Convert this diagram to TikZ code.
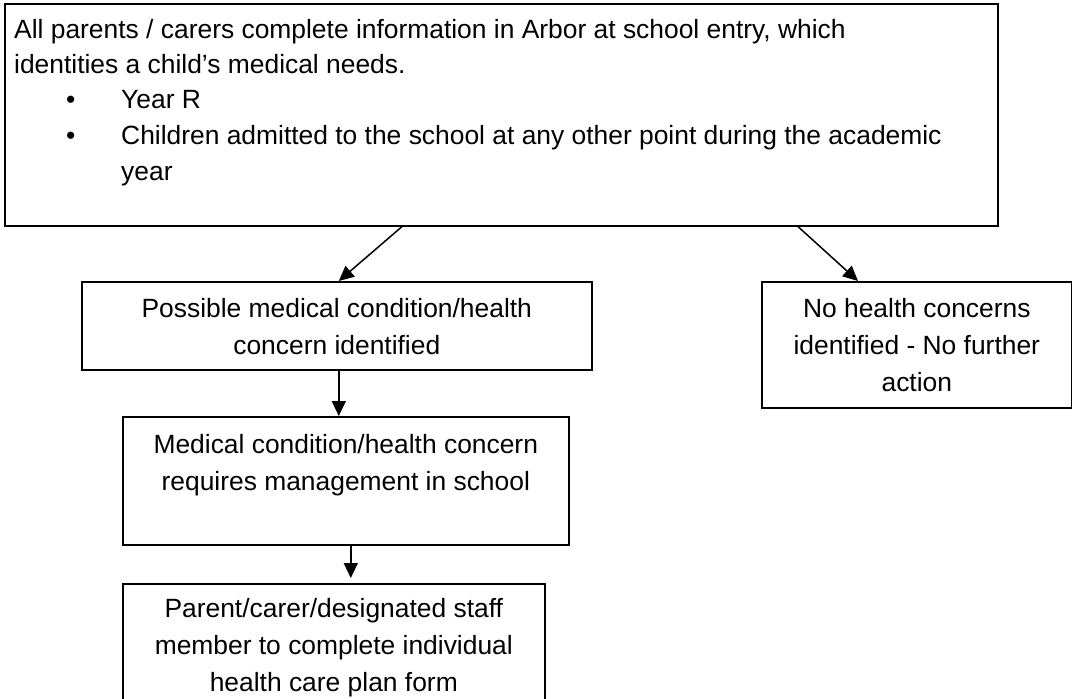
\documentclass[tikz,border=0pt]{standalone}
\usepackage{fontspec}
\setmainfont{Liberation Sans}
\usetikzlibrary{arrows.meta}
\newcommand\mlines[1]{\begin{tabular}[t]{@{}c@{}}#1\end{tabular}}
\newcommand\llines[1]{\begin{tabular}[t]{@{}l@{}}#1\end{tabular}}
\newcommand\bul{\makebox[107pt][l]{\hspace*{52pt}\textbullet}}
\begin{document}
\begin{tikzpicture}[x=1pt,y=-1pt,
  box/.style={draw=black,line width=1.6pt,rectangle,inner sep=0pt,anchor=north west},
  txt/.style={inner sep=0pt,anchor=base,font=\fontsize{26.4}{37}\selectfont},
  toptxt/.style={inner sep=0pt,anchor=base west,font=\fontsize{26.4}{35}\selectfont},
  arr/.style={draw=black,line width=1.5pt,-{Triangle[length=15pt,width=14pt]}}]
\useasboundingbox (0,0) rectangle (1072,699);
\clip (0,0) rectangle (1072,699);
\fill[white] (0,0) rectangle (1072,699);
% boxes
\node[box,minimum width=993pt,minimum height=222pt] (top) at (4,3) {};
\node[box,minimum width=510pt,minimum height=88pt] (b2) at (81,281) {};
\node[box,minimum width=310pt,minimum height=126pt] (b3) at (761,281) {};
\node[box,minimum width=446pt,minimum height=128pt] (b4) at (122,416) {};
\node[box,minimum width=422pt,minimum height=147pt] (b5) at (122,583) {};
% texts
\node[toptxt] (ttop) at (14,38) {\llines{All parents / carers complete information in Arbor at school entry, which\\
identities a child’s medical needs.\\
\bul Year R\\[1pt]
\bul Children admitted to the school at any other point during the academic\\[1pt]
\hspace*{107pt}year}};
\node[txt] (t2) at (b2.north |- 0,317) {\mlines{Possible medical condition/health\\concern identified}};
\node[txt] (t3) at (b3.north |- 0,317) {\mlines{No health concerns\\identified - No further\\action}};
\node[txt] (t4) at (b4.north |- 0,453) {\mlines{Medical condition/health concern\\requires management in school}};
\node[txt] (t5) at (b5.north |- 0,617) {\mlines{Parent/carer/designated staff\\member to complete individual\\health care plan form}};
% connectors
\draw[arr] ([xshift=398pt]top.south west) -- ([xshift=2pt]b2.north);
\draw[arr] ([xshift=794pt]top.south west) -- ([xshift=97pt]b3.north west);
\draw[arr] ([xshift=2pt]b2.south) -- ([xshift=2pt]b2.south |- b4.north);
\draw[arr,shorten >=5pt] ([xshift=5pt]b4.south) -- ([xshift=5pt]b4.south |- b5.north);
\end{tikzpicture}
\end{document}
